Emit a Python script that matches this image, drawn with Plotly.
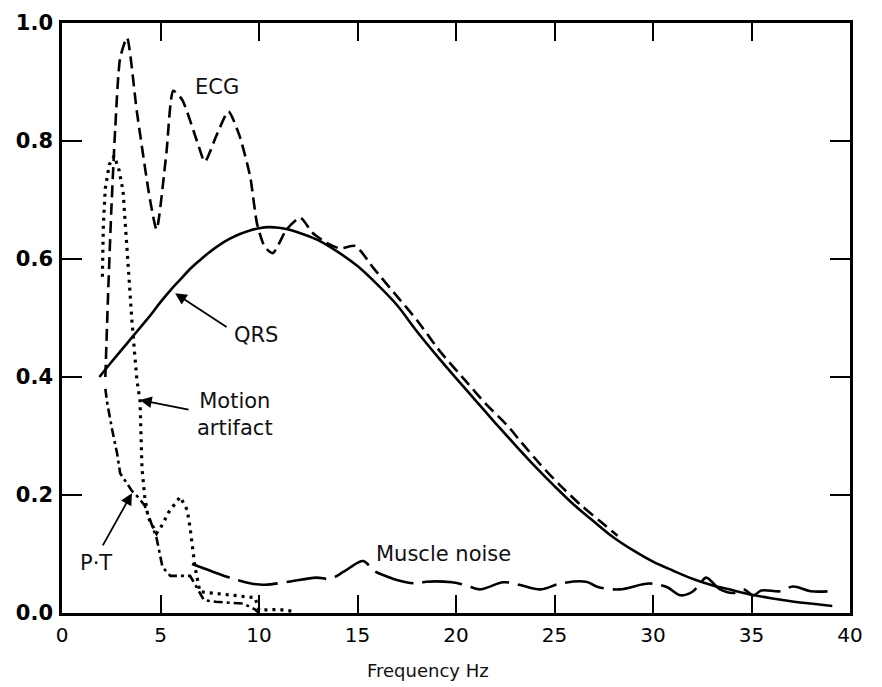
import plotly.graph_objects as go

# ---------------- data ----------------
qrs_x = [1.9, 2.5, 3, 3.5, 4, 4.5, 5, 5.5, 6, 6.5, 7, 7.5, 8, 8.5, 9, 9.5, 10, 10.5, 11, 11.5,
         12, 13, 14, 15, 16, 17, 18, 19, 20, 21, 22, 23, 24, 25, 26, 27, 28, 29, 30, 31, 32,
         33, 34, 35, 36, 37, 38, 39.1]
qrs_y = [0.40, 0.425, 0.445, 0.465, 0.485, 0.505, 0.527, 0.547, 0.565, 0.583, 0.598, 0.612,
         0.624, 0.634, 0.642, 0.648, 0.652, 0.654, 0.653, 0.65, 0.645, 0.632, 0.612, 0.588,
         0.557, 0.522, 0.478, 0.437, 0.398, 0.36, 0.322, 0.285, 0.249, 0.215, 0.183, 0.155,
         0.128, 0.106, 0.087, 0.072, 0.058, 0.047, 0.039, 0.031, 0.025, 0.02, 0.016, 0.012]

ecg_x = [2.2, 2.35, 2.5, 2.7, 2.95, 3.3, 3.8, 4.47, 4.8, 5.3, 5.65, 6.1, 6.85, 7.25, 7.85,
         8.45, 9.0, 9.55, 9.9, 10.3, 10.7, 11.4, 12.1, 12.7, 13.4, 14.1, 14.9, 15.8, 17.0,
         18.0, 19.2, 20.5, 21.5, 22.6, 23.3, 24.3, 25.3, 26.3, 27.3, 28.2]
ecg_y = [0.40, 0.55, 0.68, 0.82, 0.94, 0.975, 0.85, 0.70, 0.65, 0.78, 0.885, 0.87, 0.80,
         0.765, 0.81, 0.85, 0.81, 0.74, 0.66, 0.62, 0.61, 0.65, 0.67, 0.645, 0.628, 0.618,
         0.622, 0.585, 0.537, 0.497, 0.443, 0.393, 0.355, 0.318, 0.29, 0.251, 0.216, 0.184,
         0.156, 0.131]

motion_x = [2.05, 2.1, 2.2, 2.4, 2.65, 2.9, 3.1, 3.3, 3.55, 3.8, 3.96, 4.06, 4.2, 4.37, 4.8,
            5.1, 5.4, 6.0, 6.35, 6.5, 6.65, 6.75, 7.0, 8.0, 9.0, 9.8, 10.0, 11.0, 11.7]
motion_y = [0.57, 0.66, 0.72, 0.76, 0.775, 0.75, 0.715, 0.61, 0.495, 0.395, 0.36, 0.245,
            0.197, 0.162, 0.135, 0.15, 0.17, 0.197, 0.175, 0.145, 0.107, 0.078, 0.036, 0.032,
            0.029, 0.026, 0.005, 0.006, 0.003]

pt_x = [2.2, 2.3, 2.55, 2.8, 2.95, 3.2, 3.55, 3.9, 4.2, 4.5, 4.8, 5.1, 5.5, 6.0, 6.5, 6.9,
        7.2, 7.8, 8.5, 9.2, 9.8, 10.0]
pt_y = [0.38, 0.355, 0.31, 0.27, 0.237, 0.225, 0.207, 0.195, 0.182, 0.155, 0.127, 0.078,
        0.063, 0.063, 0.063, 0.04, 0.022, 0.019, 0.018, 0.016, 0.006, 0.0]

muscle_x = [6.6, 7.5, 8.5, 9.6, 10.3, 11.5, 12.9, 13.6, 14.3, 15.0, 15.3, 15.9, 16.5, 17.0,
            18.0, 18.5, 19.8, 20.5, 21.2, 22.4, 23.2, 24.3, 25.3, 26.6, 27.2, 28.3, 29.8,
            30.7, 31.4, 32.0, 32.4, 32.7, 33.4, 34.1, 34.6, 35.1, 35.5, 36.5, 37.1, 38.0, 39.0]
muscle_y = [0.083, 0.072, 0.06, 0.05, 0.048, 0.053, 0.06, 0.058, 0.07, 0.085, 0.088, 0.07,
            0.062, 0.056, 0.05, 0.053, 0.052, 0.047, 0.04, 0.052, 0.048, 0.04, 0.05, 0.053,
            0.044, 0.04, 0.05, 0.044, 0.03, 0.036, 0.05, 0.06, 0.04, 0.034, 0.04, 0.03,
            0.038, 0.037, 0.045, 0.037, 0.037]

x_ticks = [0, 5, 10, 15, 20, 25, 30, 35, 40]
x_tick_labels = ["0", "5", "10", "15", "20", "25", "30", "35", "40"]
y_ticks = [0.0, 0.2, 0.4, 0.6, 0.8, 1.0]
y_tick_labels = ["0.0", "0.2", "0.4", "0.6", "0.8", "1.0"]

# ---------------- figure ----------------
fig = go.Figure()
LW = 2.6
fig.add_trace(go.Scatter(x=qrs_x, y=qrs_y, mode="lines", name="QRS",
                         line=dict(color="black", width=LW, shape="spline", smoothing=1.0)))
fig.add_trace(go.Scatter(x=ecg_x, y=ecg_y, mode="lines", name="ECG",
                         line=dict(color="black", width=LW, dash="12px,6px",
                                   shape="spline", smoothing=0.6)))
fig.add_trace(go.Scatter(x=motion_x, y=motion_y, mode="lines", name="Motion artifact",
                         line=dict(color="black", width=LW + 0.6, dash="3px,5px")))
fig.add_trace(go.Scatter(x=pt_x, y=pt_y, mode="lines", name="P-T",
                         line=dict(color="black", width=LW, dash="9px,4px,3px,4px")))
fig.add_trace(go.Scatter(x=muscle_x, y=muscle_y, mode="lines", name="Muscle noise",
                         line=dict(color="black", width=LW, dash="40px,9px",
                                   shape="spline", smoothing=1.0)))

label_font = dict(family="DejaVu Sans", size=21, color="#111111")
ann = []
def label(text, x, y):
    ann.append(dict(x=x, y=y, xref="x", yref="y", text=text, showarrow=False,
                    font=label_font, xanchor="center", yanchor="middle"))
def arrow(hx, hy, tx, ty):
    ann.append(dict(x=hx, y=hy, ax=tx, ay=ty, xref="x", yref="y", axref="x", ayref="y",
                    text="", showarrow=True, arrowhead=2, arrowsize=1.3, arrowwidth=1.8,
                    arrowcolor="black"))

label("ECG", 7.87, 0.891)
label("QRS", 9.85, 0.471)
label("Motion<br>artifact", 8.78, 0.337)
label("P·T", 1.73, 0.085)
label("Muscle noise", 19.34, 0.10)
arrow(5.74, 0.542, 8.43, 0.483)
arrow(3.96, 0.361, 6.5, 0.344)
arrow(3.55, 0.203, 2.03, 0.112)
ann.append(dict(x=18.6, y=-0.097, xref="x", yref="paper", text="Frequency Hz",
                showarrow=False, font=dict(family="DejaVu Sans", size=18, color="#111111"),
                xanchor="center", yanchor="middle"))

# the page adds an 8px body margin, so the figure margins are reduced by 8px
fig.update_layout(
    width=882, height=687,
    margin=dict(l=54, r=40, t=15, b=82, autoexpand=False),
    paper_bgcolor="white", plot_bgcolor="white",
    showlegend=False,
    annotations=ann,
    xaxis=dict(range=[0, 40], tickvals=x_ticks, ticktext=x_tick_labels,
               ticks="inside", ticklen=18, tickwidth=2, tickcolor="black",
               showline=True, linewidth=2.5, linecolor="black", mirror="ticks",
               showgrid=False, zeroline=False, ticklabelstandoff=2, automargin=False,
               tickfont=dict(family="DejaVu Sans", size=20, color="black")),
    yaxis=dict(range=[0, 1.0], tickvals=y_ticks, ticktext=y_tick_labels,
               ticks="inside", ticklen=20, tickwidth=2, tickcolor="black",
               showline=True, linewidth=2.5, linecolor="black", mirror="ticks",
               showgrid=False, zeroline=False, ticklabelstandoff=2, automargin=False,
               tickfont=dict(family="DejaVu Sans", size=21, color="black", weight="bold")),
)

fig.write_html("out.html")
